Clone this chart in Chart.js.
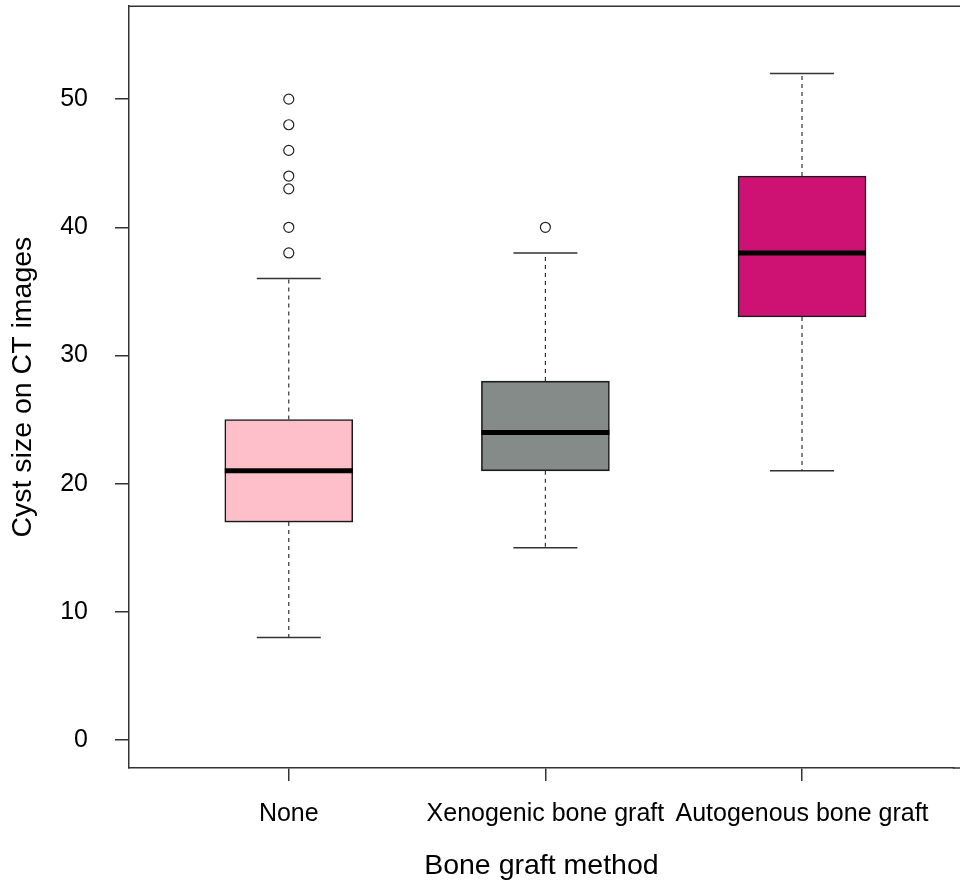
<!DOCTYPE html>
<html>
<head>
<meta charset="utf-8">
<script src="https://cdn.jsdelivr.net/npm/chart.js@4"></script>
<style>
  html, body { margin: 0; padding: 0; background: #fff; overflow: hidden; }
  #wrap { width: 960px; height: 889px; }
</style>
</head>
<body>
<div id="wrap"><canvas id="boxChart" width="960" height="889"></canvas></div>
<script>
// ===== Data =====
const groups = ['None', 'Xenogenic bone graft', 'Autogenous bone graft'];
const lowerWhisker = [8, 15, 21];
const q1 = [17, 21, 33];
const median = [21, 24, 38];
const q3 = [25, 28, 44];
const upperWhisker = [36, 38, 52];
const outliers = [
  [38, 40, 43, 44, 46, 48, 50],
  [40],
  []
];
const yTicks = [0, 10, 20, 30, 40, 50];
const boxColors = ['#FFBFCA', '#858B89', '#CE1274'];

const FONT = "'Liberation Sans', Arial, sans-serif";
const AXIS = '#333';

// group positions on the x scale are 1, 2, 3
const boxData = groups.map((_, i) => ({ x: i + 1, y: [q1[i], q3[i]] }));
const outlierData = [];
outliers.forEach((list, i) => list.forEach(v => outlierData.push({ x: i + 1, y: v })));

// whiskers, caps, medians and the frame (plot box runs past the right edge)
const boxPlotPlugin = {
  id: 'boxPlotExtras',
  afterDatasetsDraw(chart) {
    const { ctx, chartArea, width, scales: { x, y } } = chart;
    const bars = chart.getDatasetMeta(0).data;
    ctx.save();
    groups.forEach((_, i) => {
      const cx = x.getPixelForValue(i + 1);
      const half = bars[i].width / 2;
      const capHalf = half / 2;

      // dashed whiskers
      ctx.strokeStyle = '#333';
      ctx.lineWidth = 1.2;
      ctx.setLineDash([4, 4]);
      ctx.beginPath();
      ctx.moveTo(cx, y.getPixelForValue(q3[i]));
      ctx.lineTo(cx, y.getPixelForValue(upperWhisker[i]));
      ctx.moveTo(cx, y.getPixelForValue(q1[i]));
      ctx.lineTo(cx, y.getPixelForValue(lowerWhisker[i]));
      ctx.stroke();

      // caps
      ctx.setLineDash([]);
      ctx.lineWidth = 1.5;
      ctx.beginPath();
      [upperWhisker[i], lowerWhisker[i]].forEach(v => {
        const py = y.getPixelForValue(v);
        ctx.moveTo(cx - capHalf, py);
        ctx.lineTo(cx + capHalf, py);
      });
      ctx.stroke();

      // median
      ctx.strokeStyle = '#000';
      ctx.lineWidth = 5;
      ctx.beginPath();
      const my = y.getPixelForValue(median[i]);
      ctx.moveTo(cx - half, my);
      ctx.lineTo(cx + half, my);
      ctx.stroke();
    });

    ctx.strokeStyle = AXIS;
    ctx.lineWidth = 1.5;
    ctx.beginPath();
    ctx.moveTo(chartArea.left, chartArea.top);
    ctx.lineTo(width, chartArea.top);
    ctx.moveTo(chartArea.right - 1, chartArea.bottom);
    ctx.lineTo(width, chartArea.bottom);
    ctx.stroke();
    ctx.restore();
  }
};

new Chart(document.getElementById('boxChart'), {
  type: 'bar',
  data: {
    datasets: [
      {
        type: 'bar',
        data: boxData,
        backgroundColor: boxColors,
        borderColor: '#1a1a1a',
        borderWidth: 1.6,
        borderSkipped: false,
        barThickness: 128,
        order: 2
      },
      {
        type: 'scatter',
        data: outlierData,
        pointStyle: 'circle',
        pointRadius: 5,
        pointBackgroundColor: '#fff',
        pointBorderColor: '#222',
        pointBorderWidth: 1.2,
        order: 1
      }
    ]
  },
  options: {
    responsive: false,
    animation: false,
    layout: { padding: { top: 6, left: 0, right: 0, bottom: 0 } },
    plugins: { legend: { display: false }, tooltip: { enabled: false } },
    scales: {
      x: {
        type: 'linear',
        offset: false,
        min: 0.3774,
        max: 3.5914,
        afterBuildTicks: s => { s.ticks = groups.map((_, i) => ({ value: i + 1 })); },
        afterFit: s => { s.height = 121; s.paddingLeft = 0; s.paddingRight = 0; },
        grid: { offset: false, drawOnChartArea: false, tickLength: 13, tickColor: AXIS, lineWidth: 1.5 },
        border: { display: true, color: AXIS, width: 1.5 },
        ticks: {
          color: '#000',
          font: { family: FONT, size: 25 },
          padding: 18,
          maxRotation: 0,
          autoSkip: false,
          callback: v => groups[Math.round(v) - 1]
        },
        title: {
          display: true,
          text: 'Bone graft method',
          color: '#000',
          font: { family: FONT, size: 28.5 },
          padding: { top: 0, bottom: 6 }
        }
      },
      y: {
        type: 'linear',
        min: -2.184,
        max: 57.25,
        afterBuildTicks: s => { s.ticks = yTicks.map(v => ({ value: v })); },
        afterFit: s => { s.width = 129; s.paddingTop = 0; s.paddingBottom = 0; },
        grid: { drawOnChartArea: false, tickLength: 14, tickColor: AXIS, lineWidth: 1.5 },
        border: { display: true, color: AXIS, width: 1.5 },
        ticks: {
          color: '#000',
          font: { family: FONT, size: 25 },
          padding: 27
        },
        title: {
          display: true,
          text: 'Cyst size on CT images',
          color: '#000',
          font: { family: FONT, size: 28.5 },
          padding: { top: 6, bottom: 0 }
        }
      }
    }
  },
  plugins: [boxPlotPlugin]
});
</script>
</body>
</html>
